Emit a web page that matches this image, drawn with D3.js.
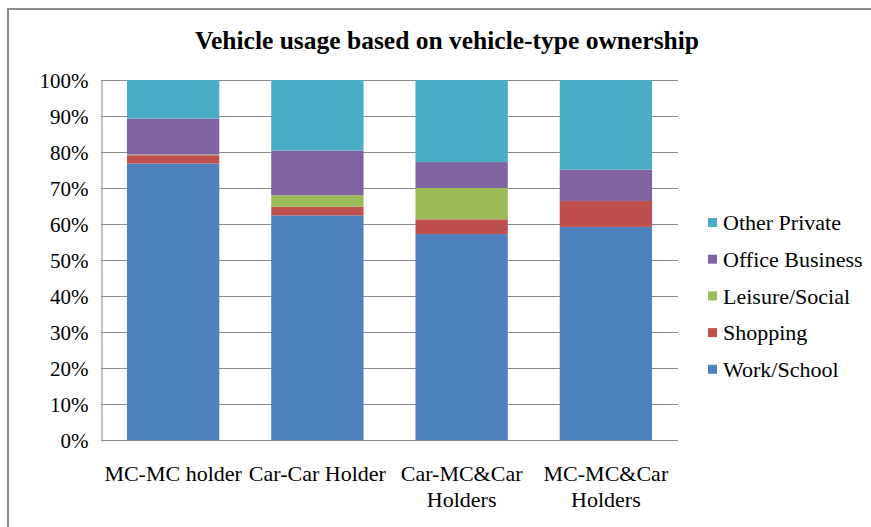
<!DOCTYPE html>
<html>
<head>
<meta charset="utf-8">
<script src="https://cdn.jsdelivr.net/npm/d3@7"></script>
<style>
  body { margin: 0; background: #fff; }
  svg text { font-family: "Liberation Serif", Tinos, "Times New Roman", Times, "DejaVu Serif", serif; fill: #000; }
</style>
</head>
<body>
<svg width="871" height="527"></svg>
<script>
// chart data
let categories = ['MC-MC holder', 'Car-Car Holder', 'Car-MC&Car Holders', 'MC-MC&Car Holders'];
let seriesNames = ['Work/School', 'Shopping', 'Leisure/Social', 'Office Business', 'Other Private'];
let workSchool = [76.8, 62.4, 57.2, 59.2];
let shopping = [2.3, 2.4, 4.1, 7.2];
let leisureSocial = [0.2, 3.2, 8.7, 0.0];
let officeBusiness = [10.0, 12.4, 7.2, 8.7];
let otherPrivate = [10.7, 19.6, 22.8, 24.9];
let yTicks = [0, 10, 20, 30, 40, 50, 60, 70, 80, 90, 100];

let colors = ['#4f81bd', '#c0504d', '#9bbb59', '#8064a2', '#4bacc6'];
let seriesValues = [workSchool, shopping, leisureSocial, officeBusiness, otherPrivate];

let svg = d3.select('svg');

// outer chart border (runs off the right and bottom of the picture)
svg.append('rect')
  .attr('x', 8).attr('y', 9)
  .attr('width', 900).attr('height', 560)
  .attr('fill', 'none')
  .attr('stroke', '#8c8c8c')
  .attr('stroke-width', 2);

// table of rows for d3.stack
let rows = categories.map((c, i) => {
  let row = { cat: c };
  seriesNames.forEach((s, k) => { row[s] = seriesValues[k][i]; });
  return row;
});

// normalise each column to 100%
let stack = d3.stack().keys(seriesNames).offset(d3.stackOffsetExpand);
let layers = stack(rows);

let x = d3.scaleBand()
  .domain(categories)
  .range([101, 678])
  .paddingInner(0.36)
  .paddingOuter(0.18);

let y = d3.scaleLinear()
  .domain([0, 1])
  .range([440, 80]);

let color = d3.scaleOrdinal().domain(seriesNames).range(colors);

// gridlines
svg.append('g')
  .selectAll('line')
  .data(yTicks)
  .enter().append('line')
  .attr('x1', 101).attr('x2', 678)
  .attr('y1', d => y(d / 100) + 0.5)
  .attr('y2', d => y(d / 100) + 0.5)
  .attr('stroke', '#8a8a8a')
  .attr('stroke-width', 1);

// y axis
let yAxis = d3.axisLeft(y)
  .tickValues(yTicks.map(d => d / 100))
  .tickFormat(d3.format('.0%'))
  .tickSize(0)
  .tickPadding(13);

let gy = svg.append('g')
  .attr('transform', 'translate(101.5,0.5)')
  .call(yAxis);
gy.attr('font-family', null);
gy.select('.domain').attr('stroke', '#8a8a8a');
gy.selectAll('text')
  .attr('font-size', 21)
  .attr('dy', '0.35em');

// bars
svg.append('g')
  .selectAll('g')
  .data(layers)
  .enter().append('g')
  .attr('fill', d => color(d.key))
  .selectAll('rect')
  .data(d => d)
  .enter().append('rect')
  .attr('x', d => x(d.data.cat))
  .attr('width', x.bandwidth())
  .attr('y', d => y(d[1]))
  .attr('height', d => y(d[0]) - y(d[1]));

// x axis line
svg.append('line')
  .attr('x1', 101).attr('x2', 678)
  .attr('y1', 440.5).attr('y2', 440.5)
  .attr('stroke', '#8a8a8a');

// category labels, wrapped like the original
let labelLines = {
  'MC-MC holder': ['MC-MC holder'],
  'Car-Car Holder': ['Car-Car Holder'],
  'Car-MC&Car Holders': ['Car-MC&Car', 'Holders'],
  'MC-MC&Car Holders': ['MC-MC&Car', 'Holders']
};

svg.append('g')
  .selectAll('text')
  .data(categories)
  .enter().append('text')
  .attr('text-anchor', 'middle')
  .attr('font-size', 22)
  .selectAll('tspan')
  .data(d => labelLines[d].map(t => ({ cat: d, t: t })))
  .enter().append('tspan')
  .attr('x', d => x(d.cat) + x.bandwidth() / 2)
  .attr('y', (d, i) => 481 + i * 26)
  .text(d => d.t);

// title
svg.append('text')
  .attr('x', 447)
  .attr('y', 49)
  .attr('text-anchor', 'middle')
  .attr('font-size', 25.5)
  .attr('font-weight', 'bold')
  .text('Vehicle usage based on vehicle-type ownership');

// legend, reversed order
let legend = svg.append('g')
  .selectAll('g')
  .data(seriesNames.slice().reverse())
  .enter().append('g')
  .attr('transform', (d, i) => `translate(708,${222.5 + i * 36.7})`);

legend.append('rect')
  .attr('x', 0).attr('y', -4.5)
  .attr('width', 9).attr('height', 9)
  .attr('fill', d => color(d));

legend.append('text')
  .attr('x', 15)
  .attr('dy', '0.35em')
  .attr('font-size', 22)
  .text(d => d);
</script>
</body>
</html>
